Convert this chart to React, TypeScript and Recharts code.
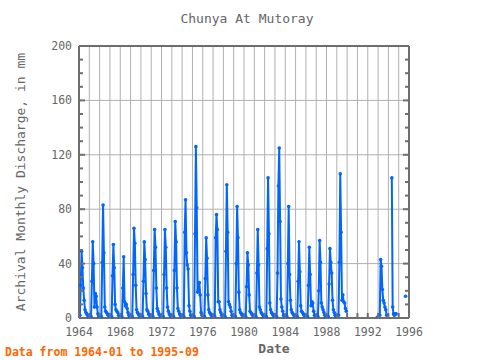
import { LineChart, Line, XAxis, YAxis, CartesianGrid } from "recharts";

// monthly discharge (mm), Jan..Dec per row, null = missing
const q1964to1969 = [
  1, 2, 24, 49, 37, 22, 13, 6, 4, 3, 2, 1,
  1, 1, 1, 27, 56, 40, 8, 18, 16, 8, 3, 1,
  1, 1, 1, 41, 83, 48, 8, 5, 4, 3, 2, 1,
  1, 1, 1, 31, 54, 37, 10, 6, 5, 4, 2, 1,
  1, 1, 1, 22, 45, 12, 9, 10, 7, 4, 2, 1,
  1, 1, 1, 32, 66, 55, 24, 6, 4, 3, 2, 1,
];
const q1970to1975 = [
  1, 1, 1, 27, 56, 43, 18, 6, 5, 3, 2, 1,
  1, 1, 1, 35, 65, 52, 22, 7, 5, 3, 2, 1,
  1, 1, 1, 32, 65, 52, 22, 8, 5, 3, 2, 1,
  1, 1, 1, 35, 71, 56, 22, 7, 5, 3, 2, 1,
  1, 1, 1, 63, 87, 48, 39, 36, 9, 5, 2, 1,
  1, 1, 1, 62, 126, 81, 19, 21, 26, 17, 4, 2,
];
const q1976to1981 = [
  1, 1, 1, 29, 59, 44, 17, 6, 4, 3, 2, 1,
  1, 1, 1, 59, 76, 65, 12, 12, 6, 4, 2, 1,
  1, 1, 1, 49, 98, 63, 12, 10, 8, 5, 2, 1,
  1, 1, 1, 40, 82, 59, 19, 6, 4, 3, 2, 1,
  1, 1, 1, 23, 48, 39, 17, 5, 4, 3, 2, 1,
  1, 1, 1, 33, 65, 39, 8, 6, 4, 3, 2, 1,
];
const q1982to1987 = [
  1, 1, 1, 51, 103, 62, 11, 6, 4, 3, 2, 1,
  1, 1, 1, 33, 97, 125, 71, 14, 8, 5, 2, 1,
  1, 1, 1, 40, 82, 32, 13, 6, 4, 3, 2, 1,
  1, 1, 1, 27, 56, 34, 9, 5, 4, 3, 2, 1,
  1, 1, 1, 24, 52, 32, 9, 12, 11, 5, 2, 1,
  1, 1, 1, 20, 57, 41, 11, 8, 6, 4, 2, 1,
];
const q1988to1995 = [
  1, 1, 1, 25, 51, 41, 33, 13, 6, 4, 2, 1,
  2, 2, 2, 41, 106, 63, 13, 17, 12, 11, 7, 5,
  null, null, null, null, null, null, null, null, null, null, null, null,
  null, null, null, null, null, null, null, null, null, null, null, null,
  null, null, null, null, null, null, null, null, null, null, null, 0.5,
  null, null, 2, 43, 38, 21, 13, 11, 8, 6, 2, null,
  null, null, null, null, 103, 8, 3, 2, 3, 3, null, null,
  null, null, null, null, null, null, null, null, 16,
];

const firstYear = 1964;
const yearTicks = [
  1964, 1965, 1966, 1967, 1968, 1969, 1970, 1971, 1972, 1973, 1974,
  1975, 1976, 1977, 1978, 1979, 1980, 1981, 1982, 1983, 1984, 1985,
  1986, 1987, 1988, 1989, 1990, 1991, 1992, 1993, 1994, 1995, 1996,
];
const yTicks = [0, 10, 20, 30, 40, 50, 60, 70, 80, 90, 100, 110, 120, 130, 140, 150, 160, 170, 180, 190, 200];
const gridValues = [40, 80, 120, 160];

const monthly = [...q1964to1969, ...q1970to1975, ...q1976to1981, ...q1982to1987, ...q1988to1995];
const data = monthly.map((q, i) => ({ t: firstYear + i / 12, q }));

const AXIS = "#6e6e6e";
const TEXT = "#666666";
const BLUE = "#0066ff";
const FONT = "'DejaVu Sans Mono', monospace";

function BottomTick({ x, y, payload }: any) {
  const v = payload.value;
  const labeled = (v - firstYear) % 4 === 0;
  return (
    <g>
      <line x1={x} y1={y} x2={x} y2={y - 5} stroke={AXIS} strokeWidth={2} />
      {labeled && (
        <text x={x} y={y + 18} textAnchor="middle" fill={TEXT} fontSize={11.5} fontFamily={FONT}>
          {v}
        </text>
      )}
    </g>
  );
}

function TopTick({ x, y }: any) {
  return <line x1={x} y1={y} x2={x} y2={y + 5} stroke={AXIS} strokeWidth={2} />;
}

function LeftTick({ x, y, payload }: any) {
  const major = payload.value % 40 === 0;
  return (
    <g>
      <line x1={x} y1={y} x2={x + (major ? 6 : 4)} y2={y} stroke={AXIS} strokeWidth={2} />
      {major && (
        <text x={x - 7} y={y + 4} textAnchor="end" fill={TEXT} fontSize={11.5} fontFamily={FONT}>
          {payload.value}
        </text>
      )}
    </g>
  );
}

function RightTick({ x, y, payload }: any) {
  const major = payload.value % 40 === 0;
  return <line x1={x} y1={y} x2={x - (major ? 6 : 4)} y2={y} stroke={AXIS} strokeWidth={2} />;
}

export default function App() {
  return (
    <div style={{ position: "absolute", left: 0, top: 0, width: 480, height: 360, background: "#fff" }}>
      <LineChart width={480} height={360} data={data} margin={{ top: 41, right: 61, left: 29, bottom: 12 }}>
        <CartesianGrid stroke="#b0b0b0" horizontalValues={gridValues} verticalValues={yearTicks} />
        <XAxis
          dataKey="t"
          type="number"
          domain={[1964, 1996]}
          ticks={yearTicks}
          interval={0}
          allowDataOverflow
          height={30}
          tickSize={0}
          tickMargin={0}
          tickLine={false}
          axisLine={{ stroke: AXIS, strokeWidth: 2 }}
          tick={<BottomTick />}
        />
        <XAxis
          xAxisId="top"
          orientation="top"
          type="number"
          domain={[1964, 1996]}
          ticks={yearTicks}
          interval={0}
          allowDataOverflow
          height={5}
          tickSize={0}
          tickMargin={0}
          tickLine={false}
          axisLine={{ stroke: AXIS, strokeWidth: 2 }}
          tick={<TopTick />}
        />
        <YAxis
          type="number"
          domain={[0, 200]}
          ticks={yTicks}
          interval={0}
          allowDataOverflow
          width={50}
          tickSize={0}
          tickMargin={0}
          tickLine={false}
          axisLine={{ stroke: AXIS, strokeWidth: 2 }}
          tick={<LeftTick />}
        />
        <YAxis
          yAxisId="right"
          orientation="right"
          type="number"
          domain={[0, 200]}
          ticks={yTicks}
          interval={0}
          allowDataOverflow
          width={10}
          tickSize={0}
          tickMargin={0}
          tickLine={false}
          axisLine={{ stroke: AXIS, strokeWidth: 2 }}
          tick={<RightTick />}
        />
        <Line
          dataKey="q"
          type="linear"
          stroke={BLUE}
          strokeWidth={2}
          dot={{ r: 1.8, fill: BLUE, stroke: BLUE, strokeWidth: 0 }}
          connectNulls={false}
          isAnimationActive={false}
        />
      </LineChart>
      <svg width={480} height={360} style={{ position: "absolute", left: 0, top: 0, pointerEvents: "none" }}>
        <text x={247} y={23} textAnchor="middle" fill={TEXT} fontSize={13} fontFamily={FONT}>
          Chunya At Mutoray
        </text>
        <text x={274} y={353} textAnchor="middle" fill={TEXT} fontSize={13} fontWeight="bold" fontFamily={FONT}>
          Date
        </text>
        <text
          x={25}
          y={182}
          textAnchor="middle"
          fill={TEXT}
          fontSize={13}
          fontFamily={FONT}
          transform="rotate(-90 25 182)"
        >
          Archival Monthly Discharge, in mm
        </text>
        <text x={5} y={356} fill="#ff6600" fontSize={11.5} fontWeight="bold" fontFamily={FONT}>
          Data from 1964-01 to 1995-09
        </text>
      </svg>
    </div>
  );
}
